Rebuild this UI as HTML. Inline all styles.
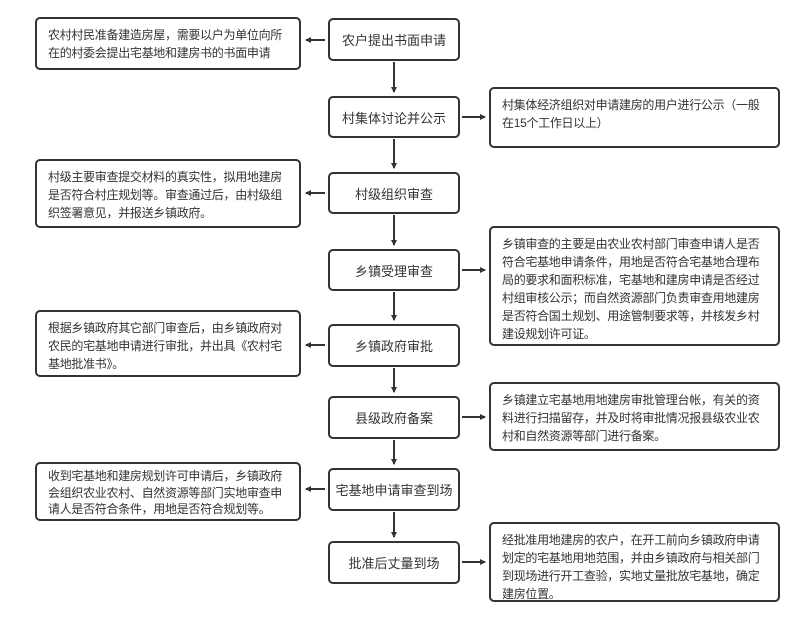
<!DOCTYPE html>
<html><head><meta charset="utf-8"><style>
body{margin:0;width:800px;height:628px;background:#fff;position:relative;overflow:hidden;font-family:"Liberation Sans","Noto Sans CJK SC",sans-serif;color:#333}
.b{position:absolute;border:2px solid #333;border-radius:5px;box-sizing:border-box;background:#fff}
.c{display:flex;align-items:center;justify-content:center;font-size:13px}
.t{font-size:12px;line-height:18px;padding:7px 10px 0 11px;letter-spacing:-0.3px}
svg{position:absolute;left:0;top:0}
</style></head><body>
<svg width="800" height="628">
<defs><marker id="a" markerWidth="6" markerHeight="6" refX="5" refY="3" orient="auto" markerUnits="userSpaceOnUse"><path d="M0,0L6,3L0,6z" fill="#333"/></marker></defs>
<g stroke="#333" stroke-width="2" marker-end="url(#a)">
<line x1="394" y1="62" x2="394" y2="92"/>
<line x1="394" y1="139" x2="394" y2="168"/>
<line x1="394" y1="215" x2="394" y2="245"/>
<line x1="394" y1="292" x2="394" y2="320"/>
<line x1="394" y1="368" x2="394" y2="392"/>
<line x1="394" y1="440" x2="394" y2="464"/>
<line x1="394" y1="512" x2="394" y2="537"/>
<line x1="325" y1="40" x2="306" y2="40"/>
<line x1="325" y1="193" x2="306" y2="193"/>
<line x1="325" y1="345" x2="306" y2="345"/>
<line x1="325" y1="489" x2="306" y2="489"/>
<line x1="462" y1="117" x2="485" y2="117"/>
<line x1="462" y1="270" x2="485" y2="270"/>
<line x1="462" y1="417" x2="485" y2="417"/>
<line x1="462" y1="562" x2="485" y2="562"/>
</g></svg>
<div class="b c" style="left:328px;top:18px;width:132px;height:43px">农户提出书面申请</div>
<div class="b c" style="left:328px;top:96px;width:132px;height:42px">村集体讨论并公示</div>
<div class="b c" style="left:328px;top:172px;width:132px;height:42px">村级组织审查</div>
<div class="b c" style="left:328px;top:249px;width:132px;height:42px">乡镇受理审查</div>
<div class="b c" style="left:328px;top:324px;width:132px;height:43px">乡镇政府审批</div>
<div class="b c" style="left:328px;top:396px;width:132px;height:43px">县级政府备案</div>
<div class="b c" style="left:328px;top:468px;width:132px;height:43px">宅基地申请审查到场</div>
<div class="b c" style="left:328px;top:541px;width:132px;height:43px">批准后丈量到场</div>
<div class="b t" style="left:35px;top:17px;width:266px;height:53px">农村村民准备建造房屋，需要以户为单位向所在的村委会提出宅基地和建房书的书面申请</div>
<div class="b t" style="left:35px;top:159px;width:266px;height:69px">村级主要审查提交材料的真实性，拟用地建房是否符合村庄规划等。审查通过后，由村级组织签署意见，并报送乡镇政府。</div>
<div class="b t" style="left:35px;top:310px;width:266px;height:67px">根据乡镇政府其它部门审查后，由乡镇政府对农民的宅基地申请进行审批，并出具《农村宅基地批准书》。</div>
<div class="b t" style="left:35px;top:462px;width:266px;height:59px;line-height:16.5px;padding-top:4px">收到宅基地和建房规划许可申请后，乡镇政府会组织农业农村、自然资源等部门实地审查申请人是否符合条件，用地是否符合规划等。</div>
<div class="b t" style="left:489px;top:87px;width:291px;height:61px">村集体经济组织对申请建房的用户进行公示（一般在15个工作日以上）</div>
<div class="b t" style="left:489px;top:226px;width:291px;height:120px">乡镇审查的主要是由农业农村部门审查申请人是否符合宅基地申请条件，用地是否符合宅基地合理布局的要求和面积标准，宅基地和建房申请是否经过村组审核公示；而自然资源部门负责审查用地建房是否符合国土规划、用途管制要求等，并核发乡村建设规划许可证。</div>
<div class="b t" style="left:489px;top:382px;width:291px;height:69px">乡镇建立宅基地用地建房审批管理台帐，有关的资料进行扫描留存，并及时将审批情况报县级农业农村和自然资源等部门进行备案。</div>
<div class="b t" style="left:489px;top:522px;width:291px;height:80px">经批准用地建房的农户，在开工前向乡镇政府申请划定的宅基地用地范围，并由乡镇政府与相关部门到现场进行开工查验，实地丈量批放宅基地，确定建房位置。</div>
</body></html>
